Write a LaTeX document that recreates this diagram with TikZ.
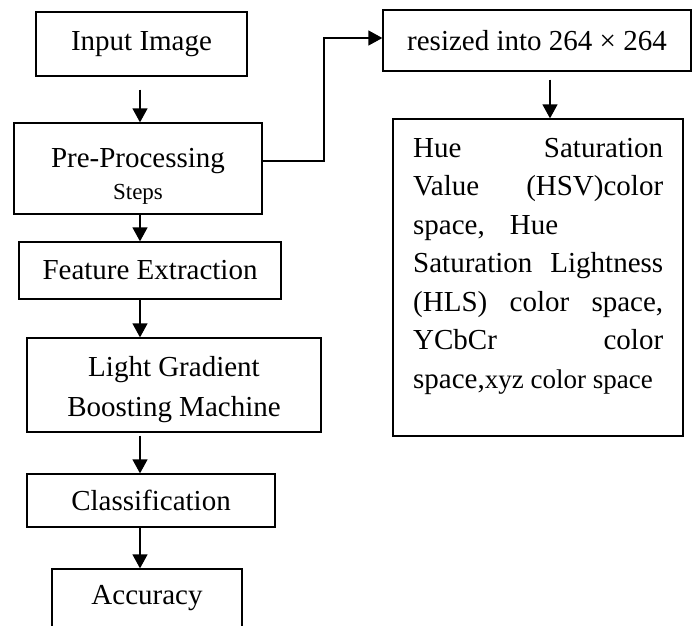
\documentclass[tikz,border=0pt]{standalone}
\usepackage{fontspec}
\setmainfont{Liberation Serif}
\usetikzlibrary{arrows.meta}
\begin{document}
\begin{tikzpicture}[x=1pt,y=-1pt,
  box/.style={draw=black, line width=1.3pt, inner sep=0pt, align=center,
    font=\fontsize{29}{40}\selectfont},
  arr/.style={line width=1.3pt, -{Triangle[length=14pt,width=15pt]}},
  lnk/.style={line width=1.3pt}]
\useasboundingbox (0,0) rectangle (693,625);
\clip (0,0) rectangle (693,625);
% left column
\node[box, minimum width=211pt, minimum height=64pt] (in) at (141.5,44) {Input Image};
\node[box, minimum width=248pt, minimum height=91pt] (pre) at (138,168.5)
  {\rule{0pt}{34pt}Pre-Processing\\[-8pt]{\fontsize{23}{28}\selectfont Steps}};
\node[box, minimum width=262pt, minimum height=57pt] (feat) at (150,270.5) {Feature Extraction};
\node[box, minimum width=294pt, minimum height=94pt] (lgbm) at (174,385) {\rule{0pt}{29pt}Light Gradient\\Boosting Machine};
\node[box, minimum width=248pt, minimum height=53pt] (cls) at (151,500.5) {Classification};
\node[box, minimum width=190pt, minimum height=58pt] (acc) at (147,598) {Accuracy};
% right column
\node[box, minimum width=308pt, minimum height=61pt] (res) at (537,40.5) {resized into 264 × 264};
\node[box, minimum width=290pt, minimum height=317pt] (hsv) at (538,277.5) {};
\node[anchor=base west, inner sep=0pt, font=\fontsize{29}{38.5}\selectfont] (hsvtxt) at (413,157)
  {\vtop{\hsize=250pt\baselineskip=38.5pt\lineskiplimit=-20pt
    \hbox to\hsize{Hue\hfill Saturation}
    \hbox to\hsize{Value\hfill (HSV)color}
    \hbox to\hsize{space,\hspace{25pt}Hue\hfill}
    \hbox to\hsize{Saturation\hfill Lightness}
    \hbox to\hsize{(HLS)\hfill color\hfill space,}
    \hbox to\hsize{YCbCr\hfill color}
    \hbox to\hsize{space,{\fontsize{27}{38.5}\selectfont xyz color space}\hfill}}};
% connectors
\coordinate (ax) at (140,0);
\coordinate (bx) at (550,0);
\coordinate (k1) at (324,161);
\coordinate (k2) at (324,38);
\draw[arr, shorten <=13pt] (in.south -| ax) -- (pre.north -| ax);
\draw[arr] (pre.south -| ax) -- (feat.north -| ax);
\draw[arr] (feat.south -| ax) -- (lgbm.north -| ax);
\draw[arr, shorten <=3pt] (lgbm.south -| ax) -- (cls.north -| ax);
\draw[arr] (cls.south -| ax) -- (acc.north -| ax);
\draw[arr] (pre.east |- k1) -- (k1) -- (k2) -- (res.west |- k2);
\draw[arr, shorten <=8pt] (res.south -| bx) -- (hsv.north -| bx);
\end{tikzpicture}
\end{document}
